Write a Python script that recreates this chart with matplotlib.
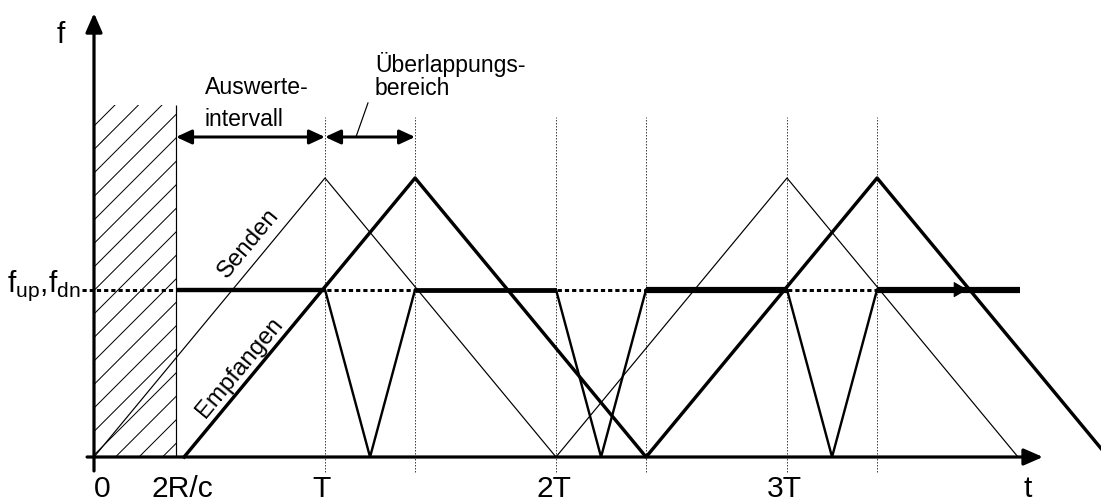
import matplotlib
matplotlib.use('Agg')
import matplotlib.pyplot as plt
import numpy as np
from matplotlib.patches import Rectangle

# Zeit in Einheiten von T, Frequenz relativ zur Spitzenfrequenz
t_senden = [0, 1, 2, 3, 4]
f_senden = [0, 1, 0, 1, 0]
t_empf = [0.39, 1.39, 2.39, 3.39, 4.39]
f_empf = [0, 1, 0, 1, 0]

f_diff = 0.6      # Niveau f_up, f_dn
t_rc = 0.355      # 2R/c
# Differenzfrequenz: waagrechte Stuecke und V-Einbrueche
diff_start = [0.355, 1.39, 2.39, 3.39]
diff_end = [1.0, 2.0, 3.0, 4.01]
v_t = [[1, 1.195, 1.39], [2, 2.195, 2.39], [3, 3.195, 3.39]]
v_f = [f_diff, 0, f_diff]

marken = [1, 1.39, 2, 2.39, 3, 3.39]
tick_text = ['0', '2R/c', 'T', '2T', '3T', 't']
tick_pos = [0.035, 0.383, 0.983, 1.99, 2.99, 4.04]

DPI = 96
P = 72 / DPI   # Pixel -> Punkt
TX, FY = 231, 279   # Pixel je T bzw. je Spitzenfrequenz

plt.rcParams['font.family'] = ['Liberation Sans', 'DejaVu Sans']
plt.rcParams['mathtext.fontset'] = 'custom'
plt.rcParams['mathtext.rm'] = 'Liberation Sans'

fig = plt.figure(figsize=(1101 / DPI, 502 / DPI), dpi=DPI)
ax = fig.add_axes([0, 0, 1, 1])
ax.set_xlim(-94 / TX, 1007 / TX)
ax.set_ylim(-45 / FY, 457 / FY)
ax.axis('off')

# schraffierter Bereich bis 2R/c (Schraffur von Hand, Abstand ca. 23 px)
h_oben = 1.262
rahmen = Rectangle((0, 0), t_rc, h_oben, facecolor='none', edgecolor='none')
ax.add_patch(rahmen)
schritt = 23.5 / TX
lauf = h_oben * FY / TX
for c in np.arange(0.093 - 16 * schritt, t_rc, schritt):
    ln, = ax.plot([c, c + lauf], [0, h_oben], color='k', lw=1.0 * P)
    ln.set_clip_path(rahmen)
ax.vlines(t_rc, 0, h_oben, color='k', lw=1.2 * P)

# gepunktete Hilfslinien
ax.vlines(marken, -0.054, 1.219, color='#444444', lw=1.0 * P, linestyle=(0, (1.5, 1.5)))
ax.plot([-0.05, 4.0], [f_diff, f_diff], color='k', lw=3 * P, linestyle=(0, (1.4, 1.0)))

ax.plot(t_senden, f_senden, color='k', lw=1.2 * P)
ax.plot(t_empf, f_empf, color='k', lw=3.4 * P)

breiten = [4.4, 4.8, 6.2, 6.2]
for a, b, w in zip(diff_start, diff_end, breiten):
    ax.plot([a, b], [f_diff, f_diff], color='k', lw=w * P, solid_capstyle='butt')
for tv in v_t:
    ax.plot(tv, v_f, color='k', lw=2.4 * P)

ax.annotate('', xy=(3.78, f_diff), xytext=(3.6, f_diff),
            arrowprops=dict(arrowstyle='-|>,head_length=0.6,head_width=0.35', lw=1 * P,
                            color='k', mutation_scale=20 * P, shrinkA=0, shrinkB=0))

# Achsen
pfeil = dict(arrowstyle='-|>,head_length=0.8,head_width=0.35', lw=3.2 * P, color='k',
             mutation_scale=20 * P, shrinkA=0, shrinkB=0)
ax.annotate('', xy=(0, 1.591), xytext=(0, -0.05), arrowprops=pfeil)
ax.annotate('', xy=(4.108, 0), xytext=(-0.03, 0), arrowprops=pfeil)

# Intervallpfeile
doppel = dict(arrowstyle='<|-|>,head_length=0.65,head_width=0.3', lw=3 * P, color='k',
              mutation_scale=20 * P, shrinkA=0, shrinkB=0)
ax.annotate('', xy=(1, 1.147), xytext=(t_rc, 1.147), arrowprops=doppel)
ax.annotate('', xy=(1.39, 1.147), xytext=(1, 1.147), arrowprops=doppel)
ax.plot([1.186, 1.134], [1.269, 1.147], color='k', lw=1.2 * P)

for s, p in zip(tick_text, tick_pos):
    ax.text(p, -0.1434, s, ha='center', va='baseline', fontsize=30 * P)

ax.text(-0.143, 1.513, 'f', ha='center', va='center', fontsize=30 * P)
ax.text(-0.056, 0.59, r'f$_\mathrm{up}$,f$_\mathrm{dn}$', ha='right', va='baseline',
        fontsize=30 * P)

ax.text(0.4805, 1.186, 'Auswerte-\nintervall', ha='left', va='baseline',
        fontsize=23 * P, linespacing=1.5)
ax.text(1.2165, 1.2975, 'Überlappungs-\nbereich', ha='left', va='baseline',
        fontsize=23 * P, linespacing=1.0)

ax.text(0.671, 0.767, 'Senden', rotation=50.4, rotation_mode='anchor',
        ha='center', va='center', fontsize=24 * P)
ax.text(0.632, 0.319, 'Empfangen', rotation=50.4, rotation_mode='anchor',
        ha='center', va='center', fontsize=24 * P)

fig.savefig('out.png', dpi=DPI)
